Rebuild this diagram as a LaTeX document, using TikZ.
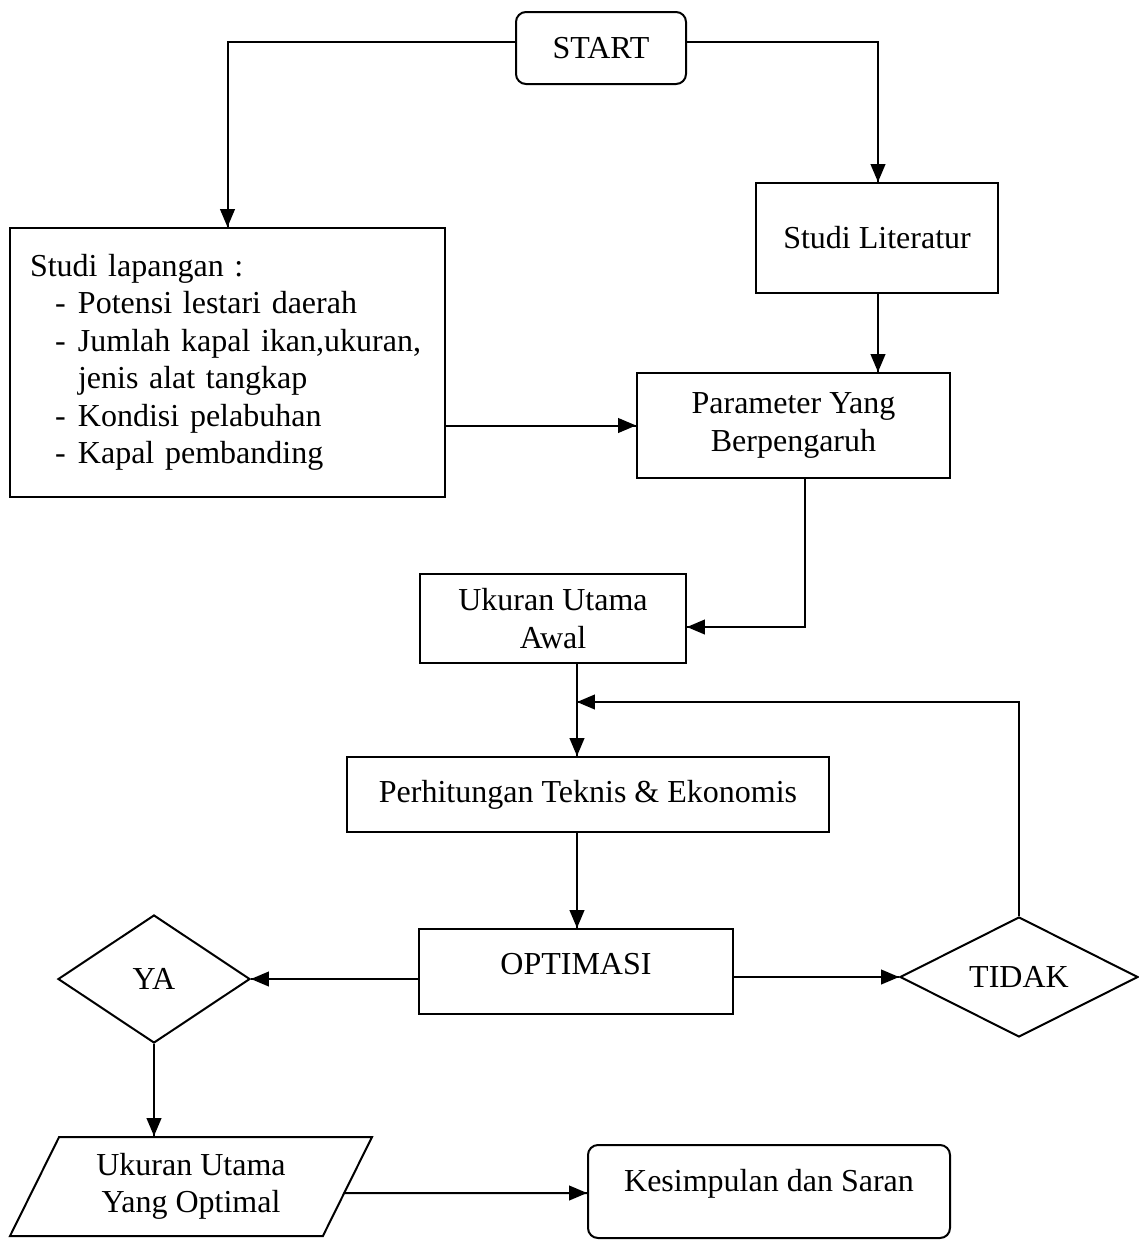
\documentclass[tikz,border=0pt]{standalone}
\usepackage{fontspec}
\setmainfont{Liberation Serif}
\usetikzlibrary{arrows}
\usetikzlibrary{decorations.markings}
\usetikzlibrary{shapes.geometric}
\tikzset{->/.style = {decoration={markings,
                                  mark=at position 1 with {\arrow[scale=1.4]{triangle 45}}},
                      postaction={decorate}}}
\tikzset{box/.style = {draw, line width=2pt, font=\fontsize{32}{37.5}\selectfont, align=center, inner sep=0pt}}

\begin{document}
\begin{tikzpicture}[x=1pt, y=-1pt, line width=2pt]
    \useasboundingbox (0, 0) rectangle (1139, 1240);

    \node [box, rounded corners=10pt, minimum width=170pt, minimum height=72pt] (start) at (601, 48) {START};
    \node [box, minimum width=242pt, minimum height=110pt] (lit) at (877, 238) {Studi Literatur};
    \node [box, minimum width=435pt, minimum height=269pt, text width=395pt, inner xsep=20pt, align=left] (lap) at (227.5, 362.5)
        {Studi lapangan :\\
         \hspace*{25pt}\makebox[23pt][l]{-}Potensi lestari daerah\\
         \hspace*{25pt}\makebox[23pt][l]{-}Jumlah kapal ikan,ukuran,\\
         \hspace*{48pt}jenis alat tangkap\\
         \hspace*{25pt}\makebox[23pt][l]{-}Kondisi pelabuhan\\
         \hspace*{25pt}\makebox[23pt][l]{-}Kapal pembanding};
    \node [box, minimum width=313pt, minimum height=105pt] (param) at (793.5, 425.5) {Parameter Yang\\Berpengaruh};
    \node [box, minimum width=266pt, minimum height=89pt] (awal) at (553, 618.5) {Ukuran Utama\\Awal};
    \node [box, minimum width=482pt, minimum height=75pt] (hitung) at (588, 794.5) {Perhitungan Teknis \& Ekonomis};
    \node [box, minimum width=314pt, minimum height=85pt] (optim) at (576, 971.5) {\raisebox{16pt}{OPTIMASI}};
    \node [box, diamond, aspect=1.5, minimum width=192pt, minimum height=128pt] (ya) at (154, 979) {YA};
    \node [box, diamond, aspect=2, minimum width=238pt, minimum height=120pt] (tidak) at (1019, 977) {TIDAK};
    \node [box, trapezium, trapezium left angle=53.6, trapezium right angle=126.4, trapezium stretches body,
           minimum width=362pt, minimum height=99pt] (hasil) at (191, 1186.5) {Ukuran Utama\\Yang Optimal};
    \node [box, rounded corners=10pt, minimum width=362pt, minimum height=93pt] (simpul) at (769, 1191.5) {\raisebox{22pt}{Kesimpulan dan Saran}};

    \coordinate (balik) at (577, 702);

    \draw [->] ([yshift=6]start.west) -| (lap.north);
    \draw [->] ([yshift=6]start.east) -| ([xshift=1]lit.north);
    \draw [->] ([xshift=1]lit.south) -- ([xshift=1]lit.south |- param.north);
    \draw [->] (lap.east |- param.west) -- (param.west);
    \draw [->] ([xshift=11]param.south) |- ([yshift=-8.5]awal.east);
    \draw [->] ([xshift=1]optim.north |- awal.south) -- ([xshift=1]optim.north |- hitung.north);
    \draw [->] ([xshift=1]optim.north |- hitung.south) -- ([xshift=1]optim.north);
    \draw [->] (tidak.north) |- (balik);
    \draw [->] ([yshift=-7.5]optim.west) -- (ya.east);
    \draw [->] ([yshift=-5.5]optim.east) -- (tidak.west);
    \draw [->] (ya.south) -- (ya.south |- hasil.north);
    \draw [->] ([xshift=-5, yshift=-6.5]hasil.east) -- ([yshift=-1.5]simpul.west);
  \end{tikzpicture}
\end{document}
